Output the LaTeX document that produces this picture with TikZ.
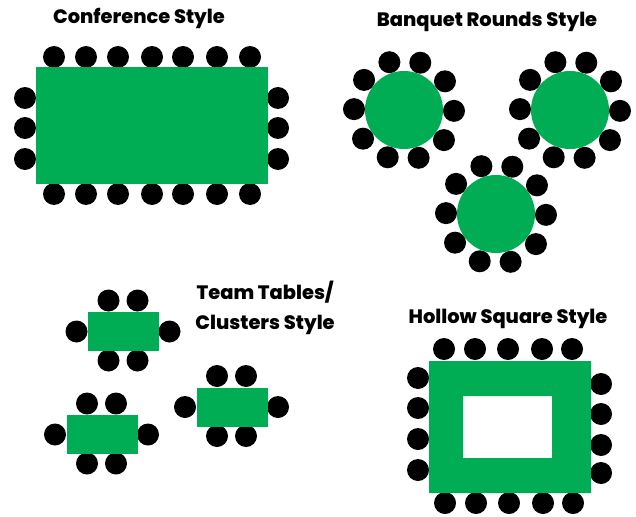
\documentclass[tikz,border=0pt]{standalone}
\usepackage{fontspec}
\newfontfamily\titlefont{Poppins ExtraBold}
\usetikzlibrary{positioning}
\definecolor{tablegreen}{RGB}{0,173,85}
\tikzset{
  chair/.style={fill=black},
  table/.style={fill=tablegreen},
  title/.style={font=\titlefont\fontsize{19.4}{22}\selectfont,inner sep=0pt,anchor=base},
}

\begin{document}
\begin{tikzpicture}[x=1pt,y=-1pt]
\useasboundingbox (0,0) rectangle (636,516);
% conference
\foreach \x in {54,86,118,152,183,217,250} {
  \fill[chair] (\x,57) circle (11);
  \fill[chair] (\x,194) circle (11);
}
\foreach \y in {98,128,159} {
  \fill[chair] (25,\y) circle (11);
  \fill[chair] (278,\y) circle (11);
}
\fill[table] (36,67) rectangle (268,184);
\node[title] (conf) at (139,24) {Conference Style};

% banquet rounds
\foreach \cx/\cy in {404/110,570/110,496/214} {
  \foreach \a in {1,37,...,325}
    \fill[chair,shift={(\cx,\cy)}] (\a:50) circle (11);
  \fill[table] (\cx,\cy) circle (39);
}
\node[title] (banq) at (487,27) {Banquet Rounds Style};

% team tables
\foreach \cx/\cy in {123.5/331.5,102/434.5,232/407} {
  \begin{scope}[shift={(\cx,\cy)}]
    \foreach \dx/\dy in {-15/-31,14/-31,-15/29,14/29,-47/0,46/0}
      \fill[chair] (\dx,\dy) circle (11);
    \fill[table] (-35.5,-19.5) rectangle (35.5,19.5);
  \end{scope}
}
\node[title] (team) at (265,299) {Team Tables/};
\node[title] (clus) at (265,329) {Clusters Style};

% hollow square
\foreach \x in {444,475,508,542,572}
  \fill[chair] (\x,349) circle (11);
\foreach \x in {445,476,509,543,573}
  \fill[chair] (\x,503) circle (11);
\foreach \y/\z in {378/384,408/414,439/445,470/473} {
  \fill[chair] (418,\y) circle (11);
  \fill[chair] (601,\z) circle (11);
}
\fill[table,even odd rule] (429,361) rectangle (591,493) (463,396) rectangle (552,458);
\node[title] (holl) at (508,323) {Hollow Square Style};
\end{tikzpicture}
\end{document}
